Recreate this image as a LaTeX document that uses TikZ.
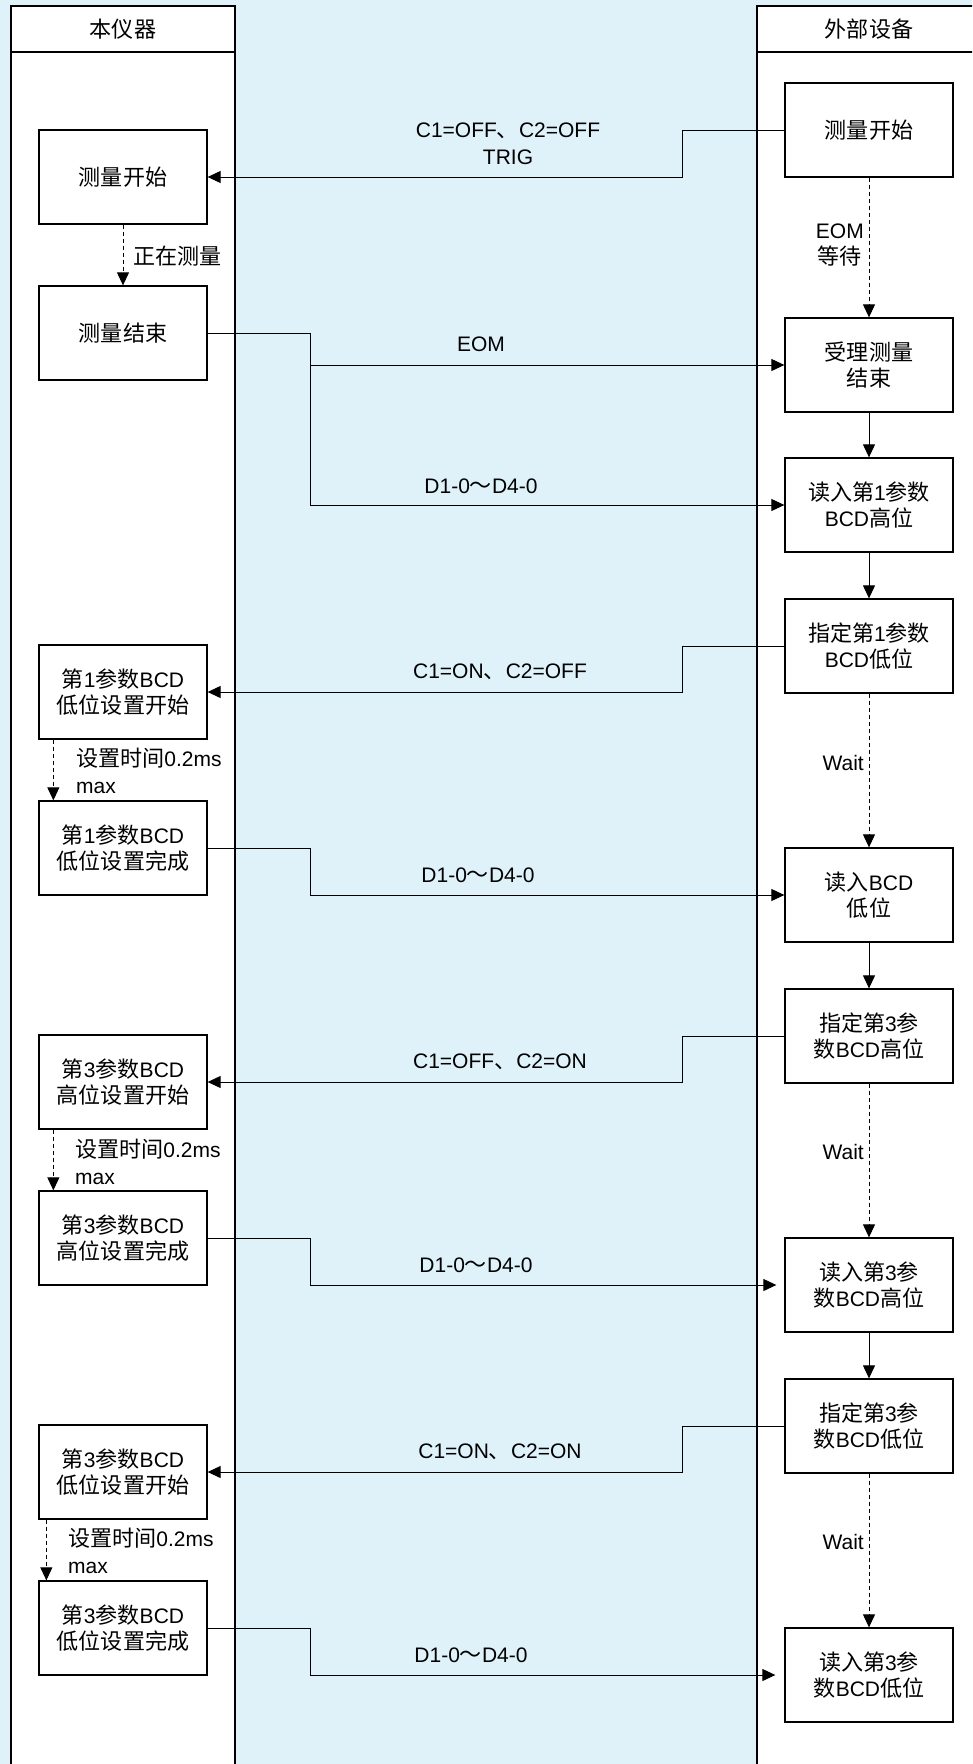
\documentclass[tikz,border=0pt]{standalone}
\usepackage{fontspec}
\setmainfont{Liberation Sans}
\newfontfamily\cjkf{Noto Sans CJK SC}[Scale=1.05]
\usetikzlibrary{arrows.meta}
\newcommand\zh[1]{{\cjkf #1}}
\definecolor{bgblue}{RGB}{223,242,250}
\begin{document}
\begin{tikzpicture}[x=1pt,y=-1pt,
  every node/.style={font=\fontsize{21}{26}\selectfont, inner sep=0pt},
  box/.style={draw, fill=white, line width=1.3pt, minimum width=168pt, minimum height=94pt, align=center},
  lane/.style={draw, fill=white, line width=1.3pt},
  conn/.style={line width=1pt, -{Triangle[length=13pt,width=12pt]}},
  dconn/.style={conn, dash pattern=on 4pt off 3pt},
  lbl/.style={align=center}]
\useasboundingbox (0,0) rectangle (972,1764);
\clip (0,0) rectangle (972,1764);
\fill[bgblue] (0,0) rectangle (972,1764);
% lanes
\draw[lane] (11,6) rectangle (235,1790);
\draw[line width=1.3pt] (11,52) -- (235,52);
\draw[lane] (757,6) rectangle (990,1790);
\draw[line width=1.3pt] (757,52) -- (990,52);
\node (HL) at (123,29) {\zh{本仪器}};
\node (HR) at (869,29) {\zh{外部设备}};
% left boxes
\node[box] (L1) at (123,177) {\zh{测量开始}};
\node[box] (L2) at (123,333) {\zh{测量结束}};
\node[box] (L3) at (123,692) {\zh{第}1\zh{参数}BCD\\\zh{低位设置开始}};
\node[box] (L4) at (123,848) {\zh{第}1\zh{参数}BCD\\\zh{低位设置完成}};
\node[box] (L5) at (123,1082) {\zh{第}3\zh{参数}BCD\\\zh{高位设置开始}};
\node[box] (L6) at (123,1238) {\zh{第}3\zh{参数}BCD\\\zh{高位设置完成}};
\node[box] (L7) at (123,1472) {\zh{第}3\zh{参数}BCD\\\zh{低位设置开始}};
\node[box] (L8) at (123,1628) {\zh{第}3\zh{参数}BCD\\\zh{低位设置完成}};
% right boxes
\node[box] (R1) at (869,130) {\zh{测量开始}};
\node[box] (R2) at (869,365) {\zh{受理测量}\\\zh{结束}};
\node[box] (R3) at (869,505) {\zh{读入第}1\zh{参数}\\BCD\zh{高位}};
\node[box] (R4) at (869,646) {\zh{指定第}1\zh{参数}\\BCD\zh{低位}};
\node[box] (R5) at (869,895) {\zh{读入}BCD\\\zh{低位}};
\node[box] (R6) at (869,1036) {\zh{指定第}3\zh{参}\\\zh{数}BCD\zh{高位}};
\node[box] (R7) at (869,1285) {\zh{读入第}3\zh{参}\\\zh{数}BCD\zh{高位}};
\node[box] (R8) at (869,1426) {\zh{指定第}3\zh{参}\\\zh{数}BCD\zh{低位}};
\node[box] (R9) at (869,1675) {\zh{读入第}3\zh{参}\\\zh{数}BCD\zh{低位}};
% vertical flow, right
\draw[dconn] (R1) -- (R2);
\draw[conn] (R2) -- (R3);
\draw[conn] (R3) -- (R4);
\draw[dconn] (R4) -- (R5);
\draw[conn] (R5) -- (R6);
\draw[dconn] (R6) -- (R7);
\draw[conn] (R7) -- (R8);
\draw[dconn] (R8) -- (R9);
\node[lbl, anchor=east] (tEOMw) at (864,245) {EOM\\\zh{等待}};
\node[anchor=east] (tW1) at (864,763) {Wait};
\node[anchor=east] (tW2) at (864,1152) {Wait};
\node[anchor=east] (tW3) at (864,1542) {Wait};
% vertical flow, left
\draw[dconn] (L1) -- (L2);
\draw[dconn] ([xshift=15pt]L3.south west) -- ([xshift=15pt]L4.north west);
\draw[dconn] ([xshift=15pt]L5.south west) -- ([xshift=15pt]L6.north west);
\draw[dconn] ([xshift=8pt]L7.south west) -- ([xshift=8pt]L8.north west);
\node[anchor=west] (tMeas) at (133,256) {\zh{正在测量}};
\node[anchor=west, align=left, font=\fontsize{21}{27}\selectfont] (tS1) at (76,771) {\zh{设置时间}0.2ms\\max};
\node[anchor=west, align=left, font=\fontsize{21}{27}\selectfont] (tS2) at (75,1162) {\zh{设置时间}0.2ms\\max};
\node[anchor=west, align=left, font=\fontsize{21}{27}\selectfont] (tS3) at (68,1551) {\zh{设置时间}0.2ms\\max};
% signals right -> left
\draw[conn] (R1.west) -- ++(-102,0) |- (L1.east);
\draw[conn] (R4.west) -- ++(-102,0) |- (L3.east);
\draw[conn] (R6.west) -- ++(-102,0) |- (L5.east);
\draw[conn] (R8.west) -- ++(-102,0) |- (L7.east);
\node[lbl, font=\fontsize{21}{27}\selectfont] (tC1) at (508,144) {C1=OFF\zh{、}C2=OFF\\TRIG};
\node (tC2) at (500,672) {C1=ON\zh{、}C2=OFF};
\node (tC3) at (500,1062) {C1=OFF\zh{、}C2=ON};
\node (tC4) at (500,1452) {C1=ON\zh{、}C2=ON};
% signals left -> right
\draw[conn] (L2.east) -- ++(103,0) |- (R2.west);
\draw[conn] (L2.east) -- ++(103,0) |- (R3.west);
\draw[conn] (L4.east) -- ++(103,0) |- (R5.west);
\draw[conn, shorten >=8pt] (L6.east) -- ++(103,0) |- (R7.west);
\draw[conn, shorten >=9pt] (L8.east) -- ++(103,0) |- (R9.west);
\node (tEOM) at (481,344) {EOM};
\node (tD1) at (481,486) {D1-0\zh{～}D4-0};
\node (tD2) at (478,875) {D1-0\zh{～}D4-0};
\node (tD3) at (476,1265) {D1-0\zh{～}D4-0};
\node (tD4) at (471,1655) {D1-0\zh{～}D4-0};
\end{tikzpicture}
\end{document}
